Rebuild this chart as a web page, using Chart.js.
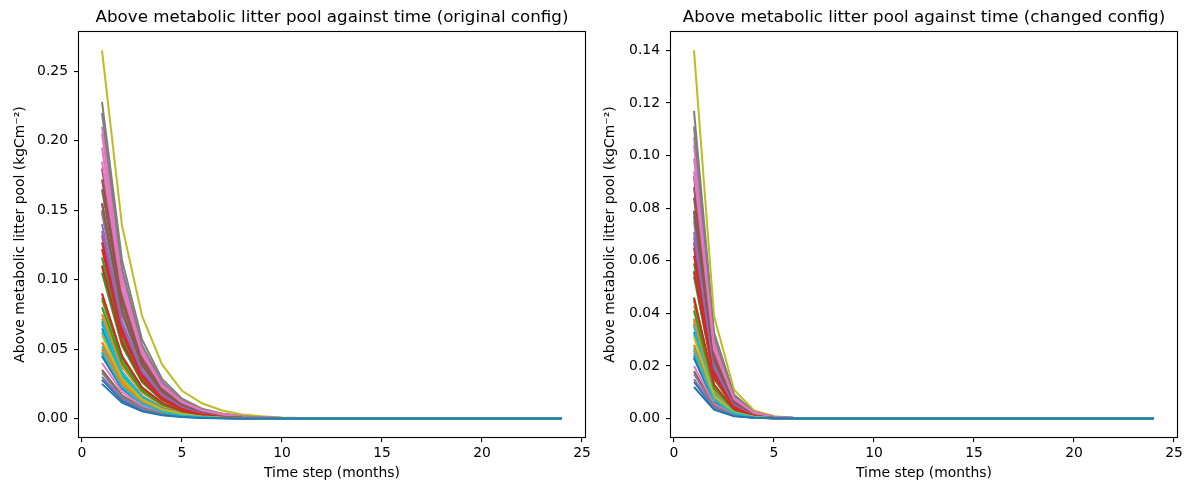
<!DOCTYPE html>
<html>
<head>
<meta charset="utf-8">
<script src="https://cdn.jsdelivr.net/npm/chart.js@4.4.1/dist/chart.umd.min.js"></script>
<style>
  html, body { margin: 0; padding: 0; background: #ffffff; }
  #wrap { position: relative; width: 1189px; height: 490px; overflow: hidden; }
  canvas { position: absolute; top: 0; }
</style>
</head>
<body>
<div id="wrap">
  <canvas id="c1" width="595" height="490" style="left:0px"></canvas>
  <canvas id="c2" width="594" height="490" style="left:595px"></canvas>
</div>
<script>
// ---------- data ----------
const months = [1,2,3,4,5,6,7,8,9,10,11,12,13,14,15,16,17,18,19,20,21,22,23,24];
const xTicks = [0, 5, 10, 15, 20, 25];
const yTicksOriginal = [0, 0.05, 0.10, 0.15, 0.20, 0.25];
const yTicksChanged = [0, 0.02, 0.04, 0.06, 0.08, 0.10, 0.12, 0.14];
const palette = ['#1f77b4','#ff7f0e','#2ca02c','#d62728','#9467bd','#8c564b','#e377c2','#7f7f7f','#bcbd22','#17becf'];

const titleOriginal = 'Above metabolic litter pool against time (original config)';
const titleChanged = 'Above metabolic litter pool against time (changed config)';
const xLabel = 'Time step (months)';
const yLabel = 'Above metabolic litter pool (kgCm\u207B\u00B2)';

// original config: one series per site
const originalSeries = [
  [.070,.0336,.0161,.0077,.0037,.0018,.0009,.0004,.0002,.0001,0,0,0,0,0,0,0,0,0,0,0,0,0,0],
  [.090,.045,.0225,.0113,.0056,.0028,.0014,.0007,.0004,.0002,0,0,0,0,0,0,0,0,0,0,0,0,0,0],
  [.116,.058,.029,.0145,.0073,.0036,.0018,.0009,.0005,.0002,0,0,0,0,0,0,0,0,0,0,0,0,0,0],
  [.132,.066,.033,.0165,.0083,.0041,.0021,.0010,.0005,.0003,0,0,0,0,0,0,0,0,0,0,0,0,0,0],
  [.155,.0775,.0388,.0194,.0097,.0048,.0024,.0012,.0006,.0003,0,0,0,0,0,0,0,0,0,0,0,0,0,0],
  [.180,.090,.045,.0225,.0113,.0056,.0028,.0014,.0007,.0004,0,0,0,0,0,0,0,0,0,0,0,0,0,0],
  [.210,.105,.0525,.0263,.0131,.0066,.0033,.0016,.0008,.0004,0,0,0,0,0,0,0,0,0,0,0,0,0,0],
  [.228,.114,.057,.0285,.0143,.0071,.0036,.0018,.0009,.0004,0,0,0,0,0,0,0,0,0,0,0,0,0,0],
  [.265,.139,.074,.039,.020,.011,.0058,.0030,.0016,.0008,.0004,.0002,0,0,0,0,0,0,0,0,0,0,0,0],
  [.072,.0338,.0159,.0075,.0035,.0017,.0008,.0004,.0002,.0001,0,0,0,0,0,0,0,0,0,0,0,0,0,0],
  [.065,.0312,.0150,.0072,.0035,.0017,.0008,.0004,.0002,.0001,0,0,0,0,0,0,0,0,0,0,0,0,0,0],
  [.085,.0417,.0204,.0100,.0049,.0024,.0012,.0006,.0003,.0001,0,0,0,0,0,0,0,0,0,0,0,0,0,0],
  [.110,.055,.0275,.0138,.0069,.0034,.0017,.0009,.0004,.0002,0,0,0,0,0,0,0,0,0,0,0,0,0,0],
  [.127,.0635,.0318,.0159,.0079,.0040,.0020,.0010,.0005,.0002,0,0,0,0,0,0,0,0,0,0,0,0,0,0],
  [.148,.0755,.0385,.0196,.0100,.0051,.0026,.0013,.0007,.0003,0,0,0,0,0,0,0,0,0,0,0,0,0,0],
  [.172,.086,.043,.0215,.0108,.0054,.0027,.0013,.0007,.0003,0,0,0,0,0,0,0,0,0,0,0,0,0,0],
  [.205,.1025,.0513,.0256,.0128,.0064,.0032,.0016,.0008,.0004,0,0,0,0,0,0,0,0,0,0,0,0,0,0],
  [.220,.1078,.0528,.0259,.0127,.0062,.0030,.0015,.0007,.0004,0,0,0,0,0,0,0,0,0,0,0,0,0,0],
  [.075,.0375,.0188,.0094,.0047,.0023,.0012,.0006,.0003,.0001,0,0,0,0,0,0,0,0,0,0,0,0,0,0],
  [.068,.0320,.0150,.0071,.0033,.0016,.0007,.0003,.0002,.0001,0,0,0,0,0,0,0,0,0,0,0,0,0,0],
  [.047,.0226,.0108,.0052,.0025,.0012,.0006,.0003,.0001,.0001,0,0,0,0,0,0,0,0,0,0,0,0,0,0],
  [.075,.0375,.0188,.0094,.0047,.0023,.0012,.0006,.0003,.0001,0,0,0,0,0,0,0,0,0,0,0,0,0,0],
  [.105,.0525,.0263,.0131,.0066,.0033,.0016,.0008,.0004,.0002,0,0,0,0,0,0,0,0,0,0,0,0,0,0],
  [.122,.061,.0305,.0153,.0076,.0038,.0019,.0010,.0005,.0002,0,0,0,0,0,0,0,0,0,0,0,0,0,0],
  [.140,.070,.035,.0175,.0088,.0044,.0022,.0011,.0005,.0003,0,0,0,0,0,0,0,0,0,0,0,0,0,0],
  [.165,.0825,.0413,.0206,.0103,.0052,.0026,.0013,.0006,.0003,0,0,0,0,0,0,0,0,0,0,0,0,0,0],
  [.195,.0975,.0488,.0244,.0122,.0061,.0030,.0015,.0008,.0004,0,0,0,0,0,0,0,0,0,0,0,0,0,0],
  [.150,.075,.0375,.0188,.0094,.0047,.0023,.0012,.0006,.0003,0,0,0,0,0,0,0,0,0,0,0,0,0,0],
  [.055,.0264,.0127,.0061,.0029,.0014,.0007,.0003,.0002,.0001,0,0,0,0,0,0,0,0,0,0,0,0,0,0],
  [.062,.0291,.0137,.0064,.0030,.0014,.0007,.0003,.0001,.0001,0,0,0,0,0,0,0,0,0,0,0,0,0,0],
  [.028,.0129,.0059,.0027,.0013,.0006,.0003,.0001,.0001,0,0,0,0,0,0,0,0,0,0,0,0,0,0,0],
  [.055,.0275,.0138,.0069,.0034,.0017,.0009,.0004,.0002,.0001,0,0,0,0,0,0,0,0,0,0,0,0,0,0],
  [.087,.0435,.0218,.0109,.0054,.0027,.0014,.0007,.0003,.0002,0,0,0,0,0,0,0,0,0,0,0,0,0,0],
  [.110,.055,.0275,.0138,.0069,.0034,.0017,.0009,.0004,.0002,0,0,0,0,0,0,0,0,0,0,0,0,0,0],
  [.135,.0675,.0338,.0169,.0084,.0042,.0021,.0011,.0005,.0003,0,0,0,0,0,0,0,0,0,0,0,0,0,0],
  [.155,.0775,.0388,.0194,.0097,.0048,.0024,.0012,.0006,.0003,0,0,0,0,0,0,0,0,0,0,0,0,0,0],
  [.185,.0925,.0463,.0231,.0116,.0058,.0029,.0014,.0007,.0004,0,0,0,0,0,0,0,0,0,0,0,0,0,0],
  [.045,.0216,.0104,.0050,.0024,.0011,.0005,.0003,.0001,.0001,0,0,0,0,0,0,0,0,0,0,0,0,0,0],
  [.050,.0240,.0115,.0055,.0027,.0013,.0006,.0003,.0001,.0001,0,0,0,0,0,0,0,0,0,0,0,0,0,0],
  [.052,.0244,.0115,.0054,.0025,.0012,.0006,.0003,.0001,.0001,0,0,0,0,0,0,0,0,0,0,0,0,0,0],
  [.045,.0216,.0104,.0050,.0024,.0011,.0005,.0003,.0001,.0001,0,0,0,0,0,0,0,0,0,0,0,0,0,0],
  [.050,.025,.0125,.0063,.0031,.0016,.0008,.0004,.0002,.0001,0,0,0,0,0,0,0,0,0,0,0,0,0,0],
  [.080,.040,.020,.010,.005,.0025,.0013,.0006,.0003,.0002,0,0,0,0,0,0,0,0,0,0,0,0,0,0],
  [.090,.045,.0225,.0113,.0056,.0028,.0014,.0007,.0004,.0002,0,0,0,0,0,0,0,0,0,0,0,0,0,0],
  [.030,.0144,.0069,.0033,.0016,.0008,.0004,.0002,.0001,0,0,0,0,0,0,0,0,0,0,0,0,0,0,0],
  [.035,.0168,.0081,.0039,.0019,.0009,.0004,.0002,.0001,0,0,0,0,0,0,0,0,0,0,0,0,0,0,0],
  [.040,.0192,.0092,.0044,.0021,.0010,.0005,.0002,.0001,.0001,0,0,0,0,0,0,0,0,0,0,0,0,0,0],
  [.033,.0158,.0076,.0036,.0017,.0008,.0004,.0002,.0001,0,0,0,0,0,0,0,0,0,0,0,0,0,0,0],
  [.060,.0288,.0138,.0066,.0032,.0015,.0007,.0004,.0002,.0001,0,0,0,0,0,0,0,0,0,0,0,0,0,0],
  [.048,.0226,.0106,.0050,.0023,.0011,.0005,.0002,.0001,.0001,0,0,0,0,0,0,0,0,0,0,0,0,0,0],
  [.025,.0115,.0053,.0024,.0011,.0005,.0002,.0001,.0001,0,0,0,0,0,0,0,0,0,0,0,0,0,0,0]
];

// changed config: one series per site
const changedSeries = [
  [.036,.0101,.0028,.0008,.0002,.0001,0,0,0,0,0,0,0,0,0,0,0,0,0,0,0,0,0,0],
  [.046,.0129,.0036,.0010,.0003,.0001,0,0,0,0,0,0,0,0,0,0,0,0,0,0,0,0,0,0],
  [.059,.0165,.0046,.0013,.0004,.0001,0,0,0,0,0,0,0,0,0,0,0,0,0,0,0,0,0,0],
  [.067,.0188,.0052,.0015,.0004,.0001,0,0,0,0,0,0,0,0,0,0,0,0,0,0,0,0,0,0],
  [.079,.0221,.0062,.0017,.0005,.0001,0,0,0,0,0,0,0,0,0,0,0,0,0,0,0,0,0,0],
  [.092,.0258,.0072,.0020,.0006,.0002,0,0,0,0,0,0,0,0,0,0,0,0,0,0,0,0,0,0],
  [.107,.0300,.0084,.0024,.0007,.0002,0,0,0,0,0,0,0,0,0,0,0,0,0,0,0,0,0,0],
  [.117,.0328,.0092,.0026,.0007,.0002,0,0,0,0,0,0,0,0,0,0,0,0,0,0,0,0,0,0],
  [.140,.0390,.0110,.0031,.0009,.0003,.0001,0,0,0,0,0,0,0,0,0,0,0,0,0,0,0,0,0],
  [.037,.0104,.0029,.0008,.0002,.0001,0,0,0,0,0,0,0,0,0,0,0,0,0,0,0,0,0,0],
  [.033,.0092,.0026,.0007,.0002,.0001,0,0,0,0,0,0,0,0,0,0,0,0,0,0,0,0,0,0],
  [.043,.0120,.0034,.0009,.0003,.0001,0,0,0,0,0,0,0,0,0,0,0,0,0,0,0,0,0,0],
  [.056,.0157,.0044,.0012,.0003,.0001,0,0,0,0,0,0,0,0,0,0,0,0,0,0,0,0,0,0],
  [.065,.0182,.0051,.0014,.0004,.0001,0,0,0,0,0,0,0,0,0,0,0,0,0,0,0,0,0,0],
  [.075,.0210,.0059,.0017,.0005,.0001,0,0,0,0,0,0,0,0,0,0,0,0,0,0,0,0,0,0],
  [.088,.0246,.0069,.0019,.0005,.0002,0,0,0,0,0,0,0,0,0,0,0,0,0,0,0,0,0,0],
  [.104,.0291,.0081,.0023,.0006,.0002,0,0,0,0,0,0,0,0,0,0,0,0,0,0,0,0,0,0],
  [.111,.0311,.0087,.0024,.0007,.0002,0,0,0,0,0,0,0,0,0,0,0,0,0,0,0,0,0,0],
  [.038,.0106,.0030,.0008,.0002,.0001,0,0,0,0,0,0,0,0,0,0,0,0,0,0,0,0,0,0],
  [.035,.0098,.0027,.0008,.0002,.0001,0,0,0,0,0,0,0,0,0,0,0,0,0,0,0,0,0,0],
  [.024,.0067,.0019,.0005,.0001,0,0,0,0,0,0,0,0,0,0,0,0,0,0,0,0,0,0,0],
  [.038,.0106,.0030,.0008,.0002,.0001,0,0,0,0,0,0,0,0,0,0,0,0,0,0,0,0,0,0],
  [.054,.0151,.0042,.0012,.0003,.0001,0,0,0,0,0,0,0,0,0,0,0,0,0,0,0,0,0,0],
  [.062,.0174,.0049,.0014,.0004,.0001,0,0,0,0,0,0,0,0,0,0,0,0,0,0,0,0,0,0],
  [.071,.0199,.0056,.0016,.0004,.0001,0,0,0,0,0,0,0,0,0,0,0,0,0,0,0,0,0,0],
  [.084,.0235,.0066,.0018,.0005,.0001,0,0,0,0,0,0,0,0,0,0,0,0,0,0,0,0,0,0],
  [.099,.0277,.0078,.0022,.0006,.0002,0,0,0,0,0,0,0,0,0,0,0,0,0,0,0,0,0,0],
  [.077,.0216,.0060,.0017,.0005,.0001,0,0,0,0,0,0,0,0,0,0,0,0,0,0,0,0,0,0],
  [.028,.0078,.0022,.0006,.0002,0,0,0,0,0,0,0,0,0,0,0,0,0,0,0,0,0,0,0],
  [.032,.0090,.0025,.0007,.0002,.0001,0,0,0,0,0,0,0,0,0,0,0,0,0,0,0,0,0,0],
  [.014,.0039,.0011,.0003,.0001,0,0,0,0,0,0,0,0,0,0,0,0,0,0,0,0,0,0,0],
  [.028,.0078,.0022,.0006,.0002,0,0,0,0,0,0,0,0,0,0,0,0,0,0,0,0,0,0,0],
  [.045,.0126,.0035,.0010,.0003,.0001,0,0,0,0,0,0,0,0,0,0,0,0,0,0,0,0,0,0],
  [.056,.0157,.0044,.0012,.0003,.0001,0,0,0,0,0,0,0,0,0,0,0,0,0,0,0,0,0,0],
  [.069,.0193,.0054,.0015,.0004,.0001,0,0,0,0,0,0,0,0,0,0,0,0,0,0,0,0,0,0],
  [.079,.0221,.0062,.0017,.0005,.0001,0,0,0,0,0,0,0,0,0,0,0,0,0,0,0,0,0,0],
  [.094,.0263,.0074,.0021,.0006,.0002,0,0,0,0,0,0,0,0,0,0,0,0,0,0,0,0,0,0],
  [.023,.0064,.0018,.0005,.0001,0,0,0,0,0,0,0,0,0,0,0,0,0,0,0,0,0,0,0],
  [.026,.0073,.0020,.0006,.0002,0,0,0,0,0,0,0,0,0,0,0,0,0,0,0,0,0,0,0],
  [.027,.0076,.0021,.0006,.0002,0,0,0,0,0,0,0,0,0,0,0,0,0,0,0,0,0,0,0],
  [.023,.0064,.0018,.0005,.0001,0,0,0,0,0,0,0,0,0,0,0,0,0,0,0,0,0,0,0],
  [.026,.0073,.0020,.0006,.0002,0,0,0,0,0,0,0,0,0,0,0,0,0,0,0,0,0,0,0],
  [.041,.0115,.0032,.0009,.0003,.0001,0,0,0,0,0,0,0,0,0,0,0,0,0,0,0,0,0,0],
  [.046,.0129,.0036,.0010,.0003,.0001,0,0,0,0,0,0,0,0,0,0,0,0,0,0,0,0,0,0],
  [.015,.0042,.0012,.0003,.0001,0,0,0,0,0,0,0,0,0,0,0,0,0,0,0,0,0,0,0],
  [.018,.0050,.0014,.0004,.0001,0,0,0,0,0,0,0,0,0,0,0,0,0,0,0,0,0,0,0],
  [.020,.0056,.0016,.0004,.0001,0,0,0,0,0,0,0,0,0,0,0,0,0,0,0,0,0,0,0],
  [.017,.0048,.0013,.0004,.0001,0,0,0,0,0,0,0,0,0,0,0,0,0,0,0,0,0,0,0],
  [.031,.0087,.0024,.0007,.0002,0,0,0,0,0,0,0,0,0,0,0,0,0,0,0,0,0,0,0],
  [.025,.0070,.0020,.0005,.0002,0,0,0,0,0,0,0,0,0,0,0,0,0,0,0,0,0,0,0],
  [.012,.0034,.0009,.0003,.0001,0,0,0,0,0,0,0,0,0,0,0,0,0,0,0,0,0,0,0]
];

// ---------- rendering ----------
const FONT = "'DejaVu Sans', sans-serif";

const framePlugin = {
  id: 'frame',
  afterDatasetsDraw(chart) {
    const a = chart.chartArea;
    const ctx = chart.ctx;
    ctx.save();
    ctx.strokeStyle = '#000000';
    ctx.lineWidth = 1.1;
    ctx.strokeRect(Math.round(a.left) - 0.5, Math.round(a.top) - 0.5,
                   Math.round(a.right) - Math.round(a.left) + 1, Math.round(a.bottom) - Math.round(a.top) + 1);
    ctx.restore();
  }
};

function makeChart(canvasId, title, series, yTicks, yAxisWidth, yTitlePad, rightPad) {
  let maxV = 0;
  series.forEach(s => s.forEach(v => { if (v > maxV) maxV = v; }));
  const minX = months[0], maxX = months[months.length - 1];
  const mx = (maxX - minX) * 0.05;
  const datasets = series.map((s, i) => ({
    data: s,
    borderColor: palette[i % 10],
    backgroundColor: palette[i % 10],
    borderWidth: 2,
    pointRadius: 0,
    tension: 0,
    fill: false,
    order: -i
  }));
  return new Chart(document.getElementById(canvasId), {
    type: 'line',
    data: { labels: months, datasets },
    options: {
      responsive: false,
      animation: false,
      devicePixelRatio: 1,
      layout: { padding: { left: 0, right: rightPad, top: 0, bottom: 0 } },
      plugins: {
        legend: { display: false },
        tooltip: { enabled: false },
        title: {
          display: true,
          fullSize: false,
          text: title,
          color: '#000000',
          font: { family: FONT, size: 16.7, weight: 'normal' },
          padding: { top: 7.5, bottom: 4.5 }
        }
      },
      scales: {
        x: {
          type: 'linear',
          min: minX - mx,
          max: maxX + mx,
          afterBuildTicks: (sc) => { sc.ticks = xTicks.map(v => ({ value: v })); },
          afterFit: (sc) => { sc.height = 53; },
          ticks: {
            color: '#000000',
            font: { family: FONT, size: 13.9 },
            padding: 3,
            maxRotation: 0,
            callback: (v) => String(v)
          },
          grid: { drawOnChartArea: false, drawTicks: true, tickLength: 5, color: '#000000', lineWidth: 1.1 },
          border: { display: false },
          title: {
            display: true,
            text: xLabel,
            color: '#000000',
            font: { family: FONT, size: 13.9 },
            padding: { top: 0, bottom: 8.5 }
          }
        },
        y: {
          type: 'linear',
          min: -0.05 * maxV,
          max: 1.05 * maxV,
          afterBuildTicks: (sc) => { sc.ticks = yTicks.map(v => ({ value: v })); },
          afterFit: (sc) => { sc.width = yAxisWidth; },
          ticks: {
            color: '#000000',
            font: { family: FONT, size: 13.9 },
            padding: 6,
            callback: (v) => Number(v).toFixed(2)
          },
          grid: { drawOnChartArea: false, drawTicks: true, tickLength: 5, color: '#000000', lineWidth: 1.1 },
          border: { display: false },
          title: {
            display: true,
            text: yLabel,
            color: '#000000',
            font: { family: FONT, size: 13.9 },
            padding: { top: yTitlePad, bottom: 0 }
          }
        }
      }
    },
    plugins: [framePlugin]
  });
}

makeChart('c1', titleOriginal, originalSeries, yTicksOriginal, 79, 12.5, 10);
makeChart('c2', titleChanged, changedSeries, yTicksChanged, 76, 7.5, 12);
</script>
</body>
</html>
